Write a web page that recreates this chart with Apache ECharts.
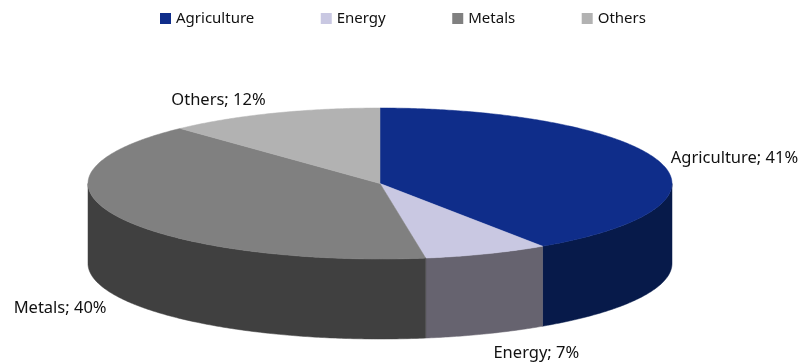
<!DOCTYPE html>
<html><head><meta charset="utf-8">
<style>html,body{margin:0;padding:0;background:#fff}#c{width:800px;height:362px}</style>
<script src="https://cdn.jsdelivr.net/npm/echarts@6/dist/echarts.min.js"></script>
</head><body><div id="c"></div>
<script>
const categories = ['Agriculture', 'Energy', 'Metals', 'Others'];
const shares = [40.6, 6.9, 40.5, 12.0];
const shownShares = [41, 7, 40, 12];
const topColors = ['#0F2D8A', '#C9C8E2', '#808080', '#B2B2B2'];
const wallColors = ['#071A4A', '#66636F', '#404040', '#404040'];

const FONT = '"Noto Sans", sans-serif';
const DEPTH_UNITS = 80 / 75.5;   // wall height in y-axis units
const total = shares.reduce((a, b) => a + b, 0);

function rim(api, theta, drop) {
  return api.coord([Math.sin(theta), Math.cos(theta) - drop]);
}
function arcPoints(api, from, to, drop) {
  const n = Math.max(2, Math.ceil(Math.abs(to - from) / 0.01));
  const pts = [];
  for (let i = 0; i <= n; i++) pts.push(rim(api, from + (to - from) * i / n, drop));
  return pts;
}
function makeRenderItem(idx) {
  return function (params, api) {
    const start = api.value(0) / total * Math.PI * 2;
    const end = (api.value(0) + api.value(1)) / total * Math.PI * 2;
    const children = [];
    // visible wall: the front half of the rim only
    const a = Math.max(start, Math.PI / 2), b = Math.min(end, Math.PI * 1.5);
    if (b > a) {
      const pts = arcPoints(api, a, b, 0).concat(arcPoints(api, b, a, DEPTH_UNITS));
      children.push({ type: 'polygon', shape: { points: pts },
        style: { fill: wallColors[idx], stroke: wallColors[idx], lineWidth: 0.5 } });
    }
    const top = [api.coord([0, 0])].concat(arcPoints(api, start, end, 0));
    children.push({ type: 'polygon', shape: { points: top },
      style: { fill: topColors[idx], stroke: topColors[idx], lineWidth: 0.5 } });
    // data label next to the mid-angle of the slice
    const mid = (start + end) / 2;
    const front = Math.cos(mid) < 0;
    const anchor = rim(api, mid, front ? DEPTH_UNITS : 0);
    const side = Math.sin(mid) > 0 ? 1 : -1;
    children.push({ type: 'text',
      x: anchor[0] + 11 * Math.sin(mid) + 3 * side * Math.abs(Math.cos(mid)),
      y: anchor[1] - 16 * Math.cos(mid) + (front ? 4.5 : 1.5),
      style: { text: categories[idx] + '; ' + shownShares[idx] + '%',
        font: '16.5px ' + FONT, fill: '#111',
        align: side > 0 ? 'left' : 'right', verticalAlign: 'middle' } });
    return { type: 'group', children };
  };
}

let cum = 0;
const series = categories.map((name, i) => {
  const s = { type: 'custom', name, coordinateSystem: 'cartesian2d', clip: false,
    silent: true, itemStyle: { color: topColors[i] },
    encode: { x: 0, y: 1 },
    renderItem: makeRenderItem(i), data: [[cum, shares[i]]] };
  cum += shares[i];
  return s;
});

const chart = echarts.init(document.getElementById('c'), null, { renderer: 'canvas' });
chart.setOption({
  animation: false,
  backgroundColor: '#fff',
  legend: { data: categories, left: 155, top: 6, icon: 'rect', itemWidth: 11, itemHeight: 11,
    itemGap: 66.5, textStyle: { fontFamily: FONT, fontSize: 15, color: '#111' }, selectedMode: false },
  grid: { left: 88, width: 584, top: 108, height: 151 },
  xAxis: { type: 'value', min: -1, max: 1, show: false },
  yAxis: { type: 'value', min: -1, max: 1, show: false },
  series
});
</script></body></html>
